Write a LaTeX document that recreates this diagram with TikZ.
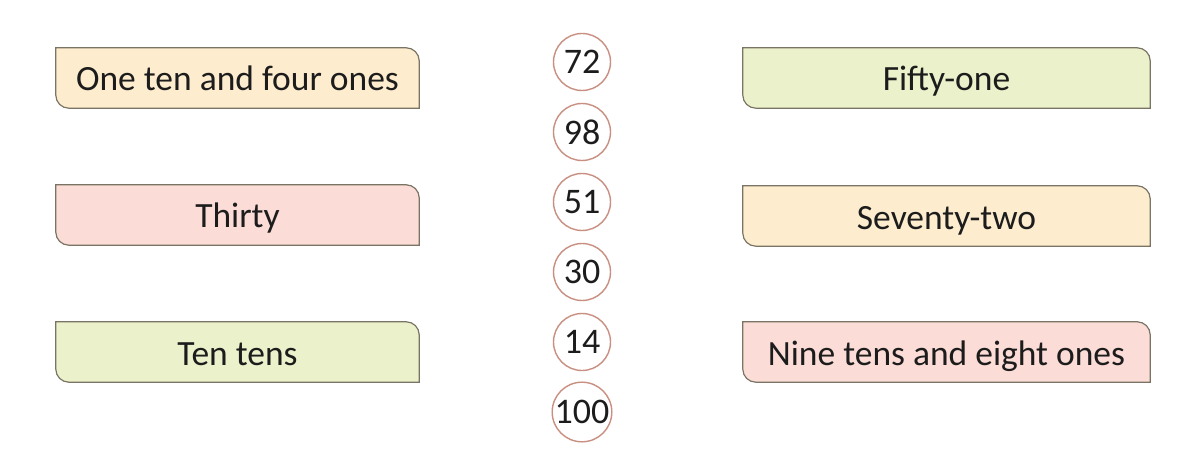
\documentclass[tikz,border=0pt]{standalone}
\usepackage{fontspec}
\setmainfont{Carlito}
\usetikzlibrary{backgrounds}
\definecolor{peach}{RGB}{253,236,206}
\definecolor{rose}{RGB}{251,220,214}
\definecolor{lime}{RGB}{235,241,203}
\definecolor{edge}{RGB}{122,116,100}
\definecolor{ring}{RGB}{201,143,128}
\definecolor{txt}{RGB}{28,28,28}
\newcommand\tabshape[2]{\path[draw=edge,line width=1.2pt,fill=#2] (#1.north west) -- ([xshift=-13pt]#1.north east) arc[start angle=90,end angle=0,radius=13pt] -- (#1.south east) -- ([xshift=13pt]#1.south west) arc[start angle=270,end angle=180,radius=13pt] -- cycle;}
\begin{document}
\begin{tikzpicture}[x=1pt,y=1pt,
  lbox/.style={minimum width=363pt,minimum height=60pt,inner sep=0pt,text height=26pt,text depth=0pt,font=\fontsize{35.5}{40}\selectfont,text=txt},
  rbox/.style={lbox,minimum width=407pt},
  numc/.style={circle,draw=ring,line width=1.4pt,fill=white,minimum size=57pt,inner sep=0pt,font=\fontsize{36}{40}\selectfont,text=txt}]
\useasboundingbox (0,0) rectangle (1202,472);
\node[lbox] (l1) at (237.5,394) {One ten and four ones};
\node[lbox] (l2) at (237.5,257) {Thirty};
\node[lbox] (l3) at (237.5,120) {Ten tens};
\node[rbox] (r1) at (946.5,394) {Fifty-one};
\node[rbox] (r2) at (946.5,256) {Seventy-two};
\node[rbox] (r3) at (946.5,120) {Nine tens and eight ones};
\begin{scope}[on background layer]
\fill[white] (0,0) rectangle (1202,472);
\tabshape{l1}{peach}
\tabshape{l2}{rose}
\tabshape{l3}{lime}
\tabshape{r1}{lime}
\tabshape{r2}{peach}
\tabshape{r3}{rose}
\end{scope}
\node[numc] (n72) at (582,410) {72};
\node[numc] (n98) at (582,340) {98};
\node[numc] (n51) at (582,270) {51};
\node[numc] (n30) at (582,200) {30};
\node[numc] (n14) at (582,130) {14};
\node[numc] (n100) at (582,60) {100};
\end{tikzpicture}
\end{document}
